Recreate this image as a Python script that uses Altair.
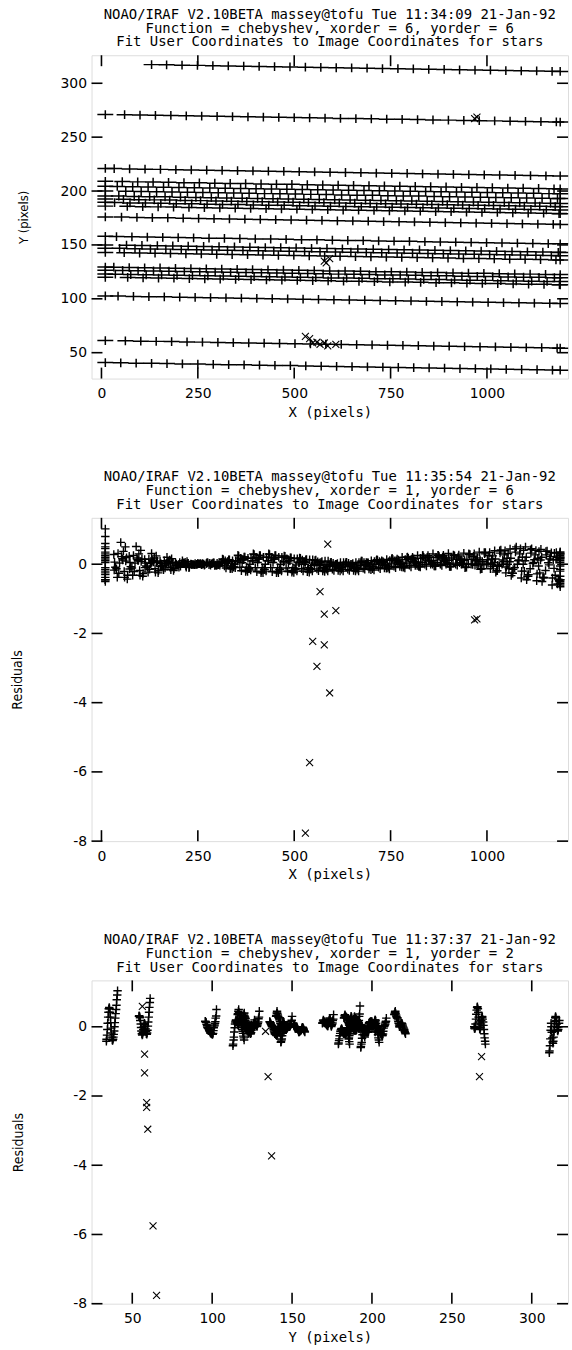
import altair as alt
import pandas as pd

# ---------------- data ----------------
X_GRID = [10, 50, 90, 130, 170, 210, 250, 290, 330, 370, 410, 450, 490, 530, 570,
          610, 650, 690, 730, 770, 810, 850, 890, 930, 970, 1010, 1050, 1090, 1130, 1170, 1190]
# each star row is sampled at slightly different x positions (interior points)
ROW_XSHIFT = [0, 12, -7, 18, -14, 5, -18, 9, -3, 15, -11, 2, 17, -16, 7, -5, 13, -9, 4, -17, 10, -1]

ROW_Y = [
    [40.8, 40.6, 40.3, 40.1, 39.9, 39.6, 39.4, 39.1, 38.9, 38.7, 38.4, 38.2, 38.0, 37.7, 37.5, 37.2, 37.0, 36.8, 36.5, 36.3, 36.1, 35.8, 35.6, 35.3, 35.1, 34.9, 34.6, 34.4, 34.2, 33.9, 33.8],
    [61.2, 61.0, 60.7, 60.5, 60.3, 60.0, 59.8, 59.5, 59.3, 59.1, 58.8, 58.6, 58.4, 58.1, 57.9, 57.6, 57.4, 57.2, 56.9, 56.7, 56.5, 56.2, 56.0, 55.7, 55.5, 55.3, 55.0, 54.8, 54.6, 54.3, 54.2],
    [102.7, 102.5, 102.2, 102.0, 101.8, 101.5, 101.3, 101.0, 100.8, 100.6, 100.3, 100.1, 99.9, 99.6, 99.4, 99.1, 98.9, 98.7, 98.4, 98.2, 98.0, 97.7, 97.5, 97.2, 97.0, 96.8, 96.5, 96.3, 96.1, 95.8, 95.7],
    [120.0, 119.8, 119.5, 119.3, 119.1, 118.8, 118.6, 118.3, 118.1, 117.9, 117.6, 117.4, 117.2, 116.9, 116.7, 116.4, 116.2, 116.0, 115.7, 115.5, 115.3, 115.0, 114.8, 114.5, 114.3, 114.1, 113.8, 113.6, 113.4, 113.1, 113.0],
    [123.0, 122.8, 122.5, 122.3, 122.1, 121.8, 121.6, 121.3, 121.1, 120.9, 120.6, 120.4, 120.2, 119.9, 119.7, 119.4, 119.2, 119.0, 118.7, 118.5, 118.3, 118.0, 117.8, 117.5, 117.3, 117.1, 116.8, 116.6, 116.4, 116.1, 116.0],
    [126.5, 126.3, 126.0, 125.8, 125.6, 125.3, 125.1, 124.8, 124.6, 124.4, 124.1, 123.9, 123.7, 123.4, 123.2, 122.9, 122.7, 122.5, 122.2, 122.0, 121.8, 121.5, 121.3, 121.0, 120.8, 120.6, 120.3, 120.1, 119.9, 119.6, 119.5],
    [129.5, 129.3, 129.0, 128.8, 128.6, 128.3, 128.1, 127.8, 127.6, 127.4, 127.1, 126.9, 126.7, 126.4, 126.2, 125.9, 125.7, 125.5, 125.2, 125.0, 124.8, 124.5, 124.3, 124.0, 123.8, 123.6, 123.3, 123.1, 122.9, 122.6, 122.5],
    [143.0, 142.8, 142.5, 142.3, 142.1, 141.8, 141.6, 141.3, 141.1, 140.9, 140.6, 140.4, 140.2, 139.9, 139.7, 139.4, 139.2, 139.0, 138.7, 138.5, 138.3, 138.0, 137.8, 137.5, 137.3, 137.1, 136.8, 136.6, 136.4, 136.1, 136.0],
    [147.0, 146.8, 146.5, 146.3, 146.1, 145.8, 145.6, 145.3, 145.1, 144.9, 144.6, 144.4, 144.2, 143.9, 143.7, 143.4, 143.2, 143.0, 142.7, 142.5, 142.3, 142.0, 141.8, 141.5, 141.3, 141.1, 140.8, 140.6, 140.4, 140.1, 140.0],
    [150.0, 149.8, 149.5, 149.3, 149.1, 148.8, 148.6, 148.3, 148.1, 147.9, 147.6, 147.4, 147.2, 146.9, 146.7, 146.4, 146.2, 146.0, 145.7, 145.5, 145.3, 145.0, 144.8, 144.5, 144.3, 144.1, 143.8, 143.6, 143.4, 143.1, 143.0],
    [158.0, 157.8, 157.5, 157.3, 157.1, 156.8, 156.6, 156.3, 156.1, 155.9, 155.6, 155.4, 155.2, 154.9, 154.7, 154.4, 154.2, 154.0, 153.7, 153.5, 153.3, 153.0, 152.8, 152.5, 152.3, 152.1, 151.8, 151.6, 151.4, 151.1, 151.0],
    [176.0, 175.8, 175.5, 175.3, 175.1, 174.8, 174.6, 174.3, 174.1, 173.9, 173.6, 173.4, 173.2, 172.9, 172.7, 172.4, 172.2, 172.0, 171.7, 171.5, 171.3, 171.0, 170.8, 170.5, 170.3, 170.1, 169.8, 169.6, 169.4, 169.1, 169.0],
    [186.0, 185.8, 185.5, 185.3, 185.1, 184.8, 184.6, 184.3, 184.1, 183.9, 183.6, 183.4, 183.2, 182.9, 182.7, 182.4, 182.2, 182.0, 181.7, 181.5, 181.3, 181.0, 180.8, 180.5, 180.3, 180.1, 179.8, 179.6, 179.4, 179.1, 179.0],
    [189.5, 189.3, 189.0, 188.8, 188.6, 188.3, 188.1, 187.8, 187.6, 187.4, 187.1, 186.9, 186.7, 186.4, 186.2, 185.9, 185.7, 185.5, 185.2, 185.0, 184.8, 184.5, 184.3, 184.0, 183.8, 183.6, 183.3, 183.1, 182.9, 182.6, 182.5],
    [192.5, 192.3, 192.0, 191.8, 191.6, 191.3, 191.1, 190.8, 190.6, 190.4, 190.1, 189.9, 189.7, 189.4, 189.2, 188.9, 188.7, 188.5, 188.2, 188.0, 187.8, 187.5, 187.3, 187.0, 186.8, 186.6, 186.3, 186.1, 185.9, 185.6, 185.5],
    [195.5, 195.3, 195.0, 194.8, 194.6, 194.3, 194.1, 193.8, 193.6, 193.4, 193.1, 192.9, 192.7, 192.4, 192.2, 191.9, 191.7, 191.5, 191.2, 191.0, 190.8, 190.5, 190.3, 190.0, 189.8, 189.6, 189.3, 189.1, 188.9, 188.6, 188.5],
    [200.0, 199.8, 199.5, 199.3, 199.1, 198.8, 198.6, 198.3, 198.1, 197.9, 197.6, 197.4, 197.2, 196.9, 196.7, 196.4, 196.2, 196.0, 195.7, 195.5, 195.3, 195.0, 194.8, 194.5, 194.3, 194.1, 193.8, 193.6, 193.4, 193.1, 193.0],
    [204.5, 204.3, 204.0, 203.8, 203.6, 203.3, 203.1, 202.8, 202.6, 202.4, 202.1, 201.9, 201.7, 201.4, 201.2, 200.9, 200.7, 200.5, 200.2, 200.0, 199.8, 199.5, 199.3, 199.0, 198.8, 198.6, 198.3, 198.1, 197.9, 197.6, 197.5],
    [209.0, 208.8, 208.5, 208.3, 208.1, 207.8, 207.6, 207.3, 207.1, 206.9, 206.6, 206.4, 206.2, 205.9, 205.7, 205.4, 205.2, 205.0, 204.7, 204.5, 204.3, 204.0, 203.8, 203.5, 203.3, 203.1, 202.8, 202.6, 202.4, 202.1, 202.0],
    [221.0, 220.8, 220.5, 220.3, 220.1, 219.8, 219.6, 219.3, 219.1, 218.9, 218.6, 218.4, 218.2, 217.9, 217.7, 217.4, 217.2, 217.0, 216.7, 216.5, 216.3, 216.0, 215.8, 215.5, 215.3, 215.1, 214.8, 214.6, 214.4, 214.1, 214.0],
    [271.0, 270.8, 270.5, 270.3, 270.1, 269.8, 269.6, 269.3, 269.1, 268.9, 268.6, 268.4, 268.2, 267.9, 267.7, 267.4, 267.2, 267.0, 266.7, 266.5, 266.3, 266.0, 265.8, 265.5, 265.3, 265.1, 264.8, 264.6, 264.4, 264.1, 264.0],
    [317.3, 317.1, 316.8, 316.6, 316.3, 316.1, 315.9, 315.6, 315.4, 315.2, 314.9, 314.7, 314.4, 314.2, 314.0, 313.7, 313.5, 313.3, 313.0, 312.8, 312.5, 312.3, 312.1, 311.8, 311.6, 311.4, 311.1, 311.0],
]

# residuals of the xorder=1 fits (shared by both residual panels)
ROW_R = [
    [1.02, 0.63, 0.51, 0.31, 0.2, 0.1, 0.03, 0.04, 0.13, 0.21, 0.25, 0.25, 0.19, 0.13, 0.06, 0.0, 0.0, 0.04, 0.08, 0.12, 0.16, 0.2, 0.18, 0.15, 0.1, 0.02, -0.08, -0.2, -0.28, -0.4, -0.45],
    [0.8, 0.5, 0.4, 0.24, 0.16, 0.08, 0.02, -0.02, -0.08, -0.13, -0.15, -0.15, -0.14, -0.13, -0.11, -0.1, -0.1, -0.06, -0.02, 0.02, 0.06, 0.1, 0.11, 0.11, 0.13, 0.15, 0.17, 0.2, 0.2, 0.2, 0.2],
    [0.5, 0.31, 0.25, 0.15, 0.1, 0.05, 0.02, -0.03, -0.11, -0.19, -0.22, -0.22, -0.21, -0.2, -0.19, -0.18, -0.18, -0.15, -0.13, -0.1, -0.08, -0.05, -0.04, -0.03, -0.01, 0.03, 0.07, 0.12, 0.13, 0.15, 0.16],
    [-0.38, -0.32, -0.27, -0.19, -0.13, -0.08, -0.02, 0.03, 0.1, 0.17, 0.2, 0.2, 0.16, 0.13, 0.09, 0.05, 0.05, 0.08, 0.11, 0.14, 0.17, 0.2, 0.18, 0.14, 0.08, -0.03, -0.15, -0.3, -0.38, -0.5, -0.55],
    [-0.1, -0.09, -0.07, -0.05, -0.04, -0.02, -0.01, 0.04, 0.14, 0.24, 0.28, 0.28, 0.23, 0.17, 0.12, 0.06, 0.06, 0.09, 0.12, 0.14, 0.17, 0.2, 0.22, 0.24, 0.28, 0.34, 0.41, 0.5, 0.45, 0.38, 0.35],
    [0.2, 0.12, 0.1, 0.06, 0.04, 0.02, 0.01, -0.03, -0.1, -0.17, -0.2, -0.2, -0.18, -0.16, -0.14, -0.12, -0.12, -0.08, -0.03, 0.01, 0.06, 0.1, 0.12, 0.14, 0.18, 0.24, 0.31, 0.4, 0.37, 0.32, 0.3],
    [0.45, 0.28, 0.23, 0.14, 0.09, 0.05, 0.01, 0.02, 0.05, 0.09, 0.1, 0.1, 0.06, 0.03, -0.01, -0.05, -0.05, -0.03, -0.01, 0.01, 0.03, 0.05, 0.04, 0.03, 0.01, -0.02, -0.06, -0.1, -0.13, -0.18, -0.2],
    [-0.25, -0.21, -0.18, -0.13, -0.09, -0.05, -0.01, -0.04, -0.13, -0.21, -0.25, -0.25, -0.24, -0.23, -0.21, -0.2, -0.2, -0.16, -0.12, -0.08, -0.04, 0.0, 0.01, 0.01, 0.03, 0.05, 0.07, 0.1, 0.12, 0.14, 0.15],
    [0.05, 0.03, 0.03, 0.02, 0.01, 0.01, 0.0, 0.02, 0.08, 0.13, 0.15, 0.15, 0.11, 0.08, 0.04, 0.0, 0.0, 0.05, 0.1, 0.15, 0.2, 0.25, 0.26, 0.27, 0.3, 0.34, 0.39, 0.45, 0.4, 0.33, 0.3],
    [0.3, 0.19, 0.15, 0.09, 0.06, 0.03, 0.01, 0.0, 0.0, 0.0, 0.0, 0.0, -0.02, -0.04, -0.06, -0.08, -0.08, -0.07, -0.07, -0.06, -0.06, -0.05, -0.07, -0.09, -0.13, -0.19, -0.26, -0.35, -0.38, -0.43, -0.45],
    [-0.15, -0.13, -0.11, -0.08, -0.05, -0.03, -0.01, -0.02, -0.05, -0.09, -0.1, -0.1, -0.11, -0.13, -0.14, -0.15, -0.15, -0.12, -0.09, -0.06, -0.03, 0.0, 0.0, 0.0, 0.0, 0.0, 0.0, 0.0, 0.02, 0.04, 0.05],
    [0.35, 0.22, 0.18, 0.11, 0.07, 0.04, 0.01, 0.04, 0.13, 0.21, 0.25, 0.25, 0.19, 0.14, 0.08, 0.02, 0.02, 0.04, 0.05, 0.07, 0.08, 0.1, 0.11, 0.11, 0.13, 0.15, 0.17, 0.2, 0.17, 0.12, 0.1],
    [-0.5, -0.43, -0.35, -0.25, -0.18, -0.1, -0.03, -0.03, -0.1, -0.17, -0.2, -0.2, -0.2, -0.2, -0.2, -0.2, -0.2, -0.17, -0.14, -0.11, -0.08, -0.05, -0.07, -0.09, -0.13, -0.19, -0.26, -0.35, -0.4, -0.47, -0.5],
    [0.1, 0.06, 0.05, 0.03, 0.02, 0.01, 0.0, 0.05, 0.15, 0.26, 0.3, 0.3, 0.24, 0.18, 0.11, 0.05, 0.05, 0.09, 0.13, 0.17, 0.21, 0.25, 0.26, 0.26, 0.28, 0.3, 0.32, 0.35, 0.32, 0.27, 0.25],
    [0.6, 0.37, 0.3, 0.18, 0.12, 0.06, 0.02, -0.02, -0.05, -0.09, -0.1, -0.1, -0.1, -0.1, -0.1, -0.1, -0.1, -0.07, -0.04, -0.01, 0.02, 0.05, 0.04, 0.02, -0.01, -0.06, -0.13, -0.2, -0.25, -0.32, -0.35],
    [-0.3, -0.26, -0.21, -0.15, -0.11, -0.06, -0.02, 0.01, 0.03, 0.04, 0.05, 0.05, 0.03, 0.0, -0.03, -0.05, -0.05, 0.0, 0.05, 0.1, 0.15, 0.2, 0.21, 0.21, 0.23, 0.25, 0.27, 0.3, 0.27, 0.22, 0.2],
    [0.15, 0.09, 0.08, 0.05, 0.03, 0.02, 0.0, -0.02, -0.08, -0.13, -0.15, -0.15, -0.15, -0.15, -0.15, -0.15, -0.15, -0.13, -0.11, -0.09, -0.07, -0.05, -0.07, -0.1, -0.15, -0.23, -0.33, -0.45, -0.5, -0.57, -0.6],
    [-0.45, -0.38, -0.32, -0.23, -0.16, -0.09, -0.02, 0.03, 0.1, 0.17, 0.2, 0.2, 0.16, 0.12, 0.07, 0.03, 0.03, 0.05, 0.08, 0.1, 0.13, 0.15, 0.15, 0.14, 0.14, 0.13, 0.12, 0.1, 0.05, -0.02, -0.05],
    [0.25, 0.16, 0.13, 0.08, 0.05, 0.03, 0.01, -0.04, -0.13, -0.21, -0.25, -0.25, -0.23, -0.22, -0.2, -0.18, -0.18, -0.14, -0.11, -0.07, -0.04, 0.0, 0.0, 0.0, 0.0, 0.0, 0.0, 0.0, -0.05, -0.12, -0.15],
    [-0.2, -0.17, -0.14, -0.1, -0.07, -0.04, -0.01, 0.02, 0.05, 0.09, 0.1, 0.1, 0.08, 0.05, 0.03, 0.0, 0.0, 0.05, 0.1, 0.15, 0.2, 0.25, 0.26, 0.27, 0.3, 0.34, 0.39, 0.45, 0.42, 0.37, 0.35],
    [-0.45, -0.38, -0.32, -0.23, -0.16, -0.09, -0.02, 0.03, 0.1, 0.17, 0.2, 0.2, 0.16, 0.13, 0.09, 0.05, 0.05, 0.1, 0.14, 0.2, 0.25, 0.3, 0.31, 0.32, 0.35, 0.39, 0.44, 0.5, 0.43, 0.34, 0.3],
    [0.05, 0.03, 0.02, 0.0, 0.02, 0.08, 0.13, 0.15, 0.15, 0.1, 0.05, 0.0, -0.05, -0.05, -0.02, 0.01, 0.04, 0.07, 0.1, 0.08, 0.04, -0.03, -0.13, -0.25, -0.4, -0.48, -0.6, -0.65],
]

# rows whose residuals differ in the yorder=2 fit (row index -> residuals)
ROW_R3 = {
    0: [1.04, 0.92, 0.78, 0.62, 0.5, 0.38, 0.25, 0.12, 0.0, -0.12, -0.22, -0.3, -0.36, -0.4, -0.38, -0.3, -0.18, -0.04, 0.12, 0.28, 0.42, 0.52, 0.56, 0.52, 0.42, 0.28, 0.1, -0.08, -0.24, -0.36, -0.42],
    1: [0.82, 0.7, 0.56, 0.42, 0.28, 0.14, 0.02, -0.1, -0.18, -0.22, -0.2, -0.14, -0.06, 0.02, 0.08, 0.1, 0.06, 0.0, -0.08, -0.16, -0.22, -0.24, -0.2, -0.12, -0.02, 0.08, 0.18, 0.26, 0.3, 0.32, 0.3],
    20: [-0.5, -0.42, -0.32, -0.2, -0.08, 0.04, 0.14, 0.22, 0.28, 0.3, 0.26, 0.18, 0.08, -0.02, -0.08, -0.06, 0.02, 0.14, 0.28, 0.42, 0.52, 0.58, 0.56, 0.48, 0.36, 0.22, 0.08, -0.02, -0.06, -0.04, 0.0],
    21: [0.18, 0.1, 0.0, -0.08, -0.12, -0.1, -0.02, 0.08, 0.18, 0.26, 0.3, 0.26, 0.16, 0.02, -0.14, -0.3, -0.42, -0.48, -0.44, -0.32, -0.16, 0.0, 0.1, -0.1, -0.35, -0.55, -0.7, -0.75],
}

# rejected (deleted) points: x, y, residual in fit 2, residual in fit 3
REJ_X = [529, 540, 559, 548, 578, 587, 567, 608, 578, 592, 583, 968, 974]
REJ_Y = [65.2, 63.0, 59.7, 59.0, 59.0, 56.3, 57.7, 57.7, 135.0, 137.2, 133.4, 267.3, 268.6]
REJ_R2 = [-7.77, -5.73, -2.95, -2.23, -2.33, 0.58, -0.79, -1.34, -1.44, -3.72, -0.10, -1.61, -1.58]
REJ_R3 = [-7.76, -5.75, -2.96, -2.19, -2.33, 0.59, -0.79, -1.33, -1.44, -3.73, -0.13, -1.44, -0.86]

TITLE1 = ["NOAO/IRAF V2.10BETA massey@tofu Tue 11:34:09 21-Jan-92",
          "Function = chebyshev, xorder = 6, yorder = 6",
          "Fit User Coordinates to Image Coordinates for stars"]
TITLE2 = ["NOAO/IRAF V2.10BETA massey@tofu Tue 11:35:54 21-Jan-92",
          "Function = chebyshev, xorder = 1, yorder = 6",
          "Fit User Coordinates to Image Coordinates for stars"]
TITLE3 = ["NOAO/IRAF V2.10BETA massey@tofu Tue 11:37:37 21-Jan-92",
          "Function = chebyshev, xorder = 1, yorder = 2",
          "Fit User Coordinates to Image Coordinates for stars"]

X_TICKS = [0, 250, 500, 750, 1000]
Y1_TICKS = [50, 100, 150, 200, 250, 300]
R_TICKS = [0, -2, -4, -6, -8]
Y3_TICKS = [50, 100, 150, 200, 250, 300]

# ---------------- tables ----------------
recs = []
last = len(X_GRID) - 1
for i, (ys, rs) in enumerate(zip(ROW_Y, ROW_R)):
    first = len(X_GRID) - len(ys)
    r3s = ROW_R3.get(i, rs)
    for k, yv, rv, r3v in zip(range(first, len(X_GRID)), ys, rs, r3s):
        xv = X_GRID[k] + (ROW_XSHIFT[i] if first < k < last else 0)
        recs.append({"x": xv, "y": yv, "r": rv, "r3": r3v})
good = pd.DataFrame(recs)
rej = pd.DataFrame({"x": REJ_X, "y": REJ_Y, "r2": REJ_R2, "r3x": REJ_R3})

# ---------------- styling ----------------
W, H = 479, 325
PLUS = "M-1,0L1,0M0,-1L0,1"
PLUS_WIDE = "M-1,0L1,0M0,-0.55L0,0.55"
CROSS = "M-1,-1L1,1M-1,1L1,-1"
MONO = "DejaVu Sans Mono"
SANS = "DejaVu Sans"
NARROW = "Liberation Sans Narrow, DejaVu Sans Condensed, Liberation Sans"
TL = 11
LABEL_EXPR = "datum.value < 0 ? '-' + abs(datum.value) : '' + datum.value"


def panel(xf, yf_good, yf_rej, xdom, ydom, xticks, yticks, xtitle, ytitle,
          ytitle_x, ytitle_size, title, good_shape, good_size, good_sw):
    xs = alt.Scale(domain=xdom, nice=False, zero=False)
    ys = alt.Scale(domain=ydom, nice=False, zero=False)
    xax = alt.Axis(values=xticks, title=xtitle, ticks=False, tickSize=0, domain=False,
                   grid=False, labelPadding=8, labelFont=SANS, labelFontSize=14,
                   labelExpr=LABEL_EXPR, titleFont=MONO, titleFontSize=14,
                   titleFontWeight="normal", titleY=34, titleBaseline="middle")
    yax = alt.Axis(values=yticks, title=ytitle, ticks=False, tickSize=0, domain=False,
                   grid=False, labelPadding=5, labelFont=SANS, labelFontSize=14,
                   labelExpr=LABEL_EXPR, titleFont=NARROW, titleFontSize=ytitle_size,
                   titleFontWeight="normal", titleAngle=270, titleX=ytitle_x,
                   titleY=H / 2, titleAlign="center", titleBaseline="middle")
    X = lambda f: alt.X(f, type="quantitative", scale=xs, axis=xax)
    Y = lambda f: alt.Y(f, type="quantitative", scale=ys, axis=yax)
    pts = alt.Chart(good).mark_point(
        shape=good_shape, size=good_size, filled=False, color="black",
        strokeWidth=good_sw, opacity=1
    ).encode(x=X(xf), y=Y(yf_good))
    bad = alt.Chart(rej).mark_point(
        shape=CROSS, size=49, filled=False, color="black", strokeWidth=1.1, opacity=1
    ).encode(x=X(xf), y=Y(yf_rej))
    xt = pd.DataFrame({"v": xticks})
    yt = pd.DataFrame({"v": yticks})
    tick_style = dict(color="black", strokeWidth=1.6)
    xb = alt.Chart(xt).mark_rule(**tick_style).encode(
        x=X("v"), y=alt.value(H), y2=alt.value(H - TL))
    xtp = alt.Chart(xt).mark_rule(**tick_style).encode(
        x=X("v"), y=alt.value(0), y2=alt.value(TL))
    yl = alt.Chart(yt).mark_rule(**tick_style).encode(
        y=Y("v"), x=alt.value(0), x2=alt.value(TL))
    yr = alt.Chart(yt).mark_rule(**tick_style).encode(
        y=Y("v"), x=alt.value(W), x2=alt.value(W - TL))
    return alt.layer(pts, bad, xb, xtp, yl, yr).properties(
        width=W, height=H,
        title=alt.TitleParams(text=title, font=MONO, fontSize=14, fontWeight="normal",
                              anchor="middle", frame="group", lineHeight=14,
                              offset=5, color="black"),
    )


p1 = panel("x", "y", "y", [-25.8, 1210.3], [26, 326], X_TICKS, Y1_TICKS,
           "X (pixels)", "Y (pixels)", -68, 13, TITLE1, PLUS_WIDE, 256, 1.5)
p2 = panel("x", "r", "r2", [-25.8, 1210.3], [-8.0, 1.34], X_TICKS, R_TICKS,
           "X (pixels)", "Residuals", -74, 14, TITLE2, PLUS, 72, 1.4)
p3 = panel("y", "r3", "r3x", [24.5, 322.7], [-8.0, 1.34], Y3_TICKS, R_TICKS,
           "Y (pixels)", "Residuals", -73, 14, TITLE3, PLUS, 72, 1.4)

chart = alt.vconcat(p1, p2, p3, spacing=49).properties(
    padding={"left": 10, "top": 3, "right": 0, "bottom": 0}
).configure_view(stroke="black", strokeWidth=1.2).configure_axis(
    labelColor="black", titleColor="black"
).configure(background="white")

chart.save("out.html", embed_options={"renderer": "svg", "actions": False})
